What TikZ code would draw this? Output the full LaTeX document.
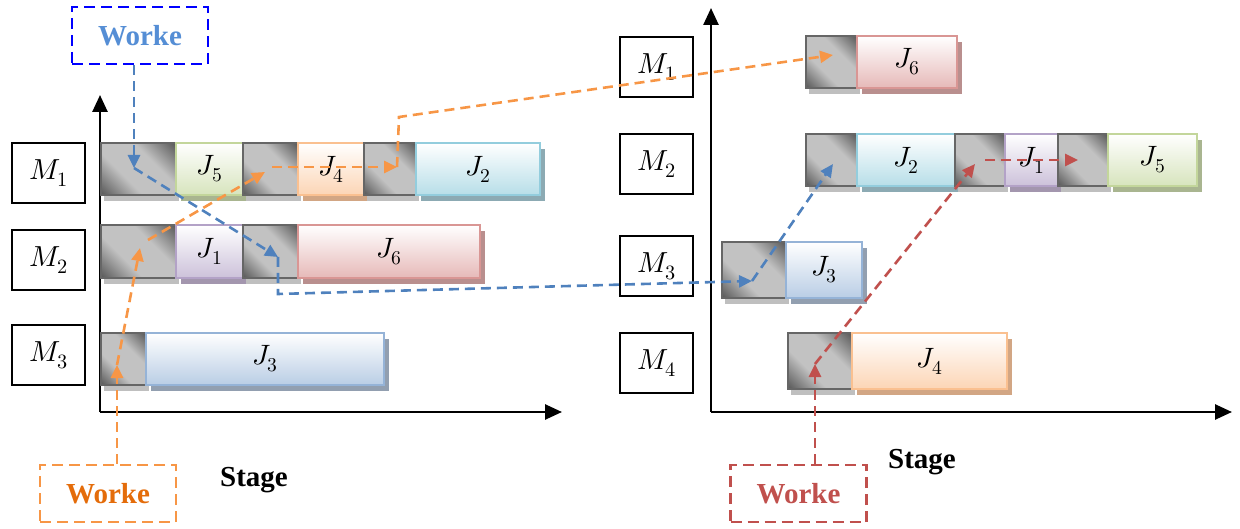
\documentclass[tikz,border=0pt]{standalone}
\usepackage{fontspec}
\usepackage{unicode-math}
\setmainfont{Liberation Serif}
\usetikzlibrary{arrows.meta,shadows}

\definecolor{gdark}{HTML}{555555}
\definecolor{glight}{HTML}{C2C2C2}
\definecolor{greenF}{HTML}{D7E4BD}\definecolor{greenB}{HTML}{C3D69B}\definecolor{greenS}{HTML}{A9B590}
\definecolor{orangeF}{HTML}{FCD5B5}\definecolor{orangeB}{HTML}{FAC090}\definecolor{orangeS}{HTML}{D2A684}
\definecolor{cyanF}{HTML}{B7DEE8}\definecolor{cyanB}{HTML}{93CDDD}\definecolor{cyanS}{HTML}{8CAAB3}
\definecolor{purpleF}{HTML}{CCC1DA}\definecolor{purpleB}{HTML}{B3A2C7}\definecolor{purpleS}{HTML}{A396AE}
\definecolor{redF}{HTML}{E6B9B8}\definecolor{redB}{HTML}{D99694}\definecolor{redS}{HTML}{B98F8E}
\definecolor{blueF}{HTML}{B9CDE5}\definecolor{blueB}{HTML}{95B3D7}\definecolor{blueS}{HTML}{929FB0}
\definecolor{lineblue}{HTML}{4F81BD}
\definecolor{lineorange}{HTML}{F79646}
\definecolor{linered}{HTML}{C0504D}
\definecolor{txtblue}{HTML}{558ED5}
\definecolor{txtorange}{HTML}{E46C0A}

\pgfdeclarehorizontalshading{grayglass}{100bp}{color(0bp)=(gdark); color(14bp)=(gdark); color(38bp)=(glight); color(62bp)=(glight); color(86bp)=(gdark); color(100bp)=(gdark)}

\tikzset{
  bx/.style={anchor=north west, inner sep=0pt, outer sep=0pt, minimum height=52pt,
    font=\fontsize{28}{34}\selectfont},
  gbox/.style={bx, draw=black!60, line width=1.6pt, shading=grayglass, shading angle=45,
    drop shadow={shadow xshift=3pt, shadow yshift=-6pt, fill=black!25, opacity=1}},
  jbox/.style={bx, draw=#1B, line width=1.8pt, top color=white, bottom color=#1F,
    drop shadow={shadow xshift=5pt, shadow yshift=-6pt, fill=#1S, opacity=1}},
  mbox/.style={draw, line width=1.5pt, inner sep=0pt, minimum width=73pt, minimum height=60pt,
    font=\fontsize{29}{34}\selectfont},
  wbox/.style={draw=#1, dash pattern=on 11pt off 6pt, line width=2.2pt, inner sep=0pt,
    minimum width=136pt, minimum height=57pt, font=\fontsize{29}{34}\selectfont\bfseries},
  stagelbl/.style={font=\fontsize{29}{34}\selectfont\bfseries, inner sep=0pt},
  axis/.style={line width=2.6pt, -{Triangle[length=17pt,width=15pt]}},
  conn/.style={draw=#1, line width=2.6pt, dash pattern=on 10pt off 6pt,
    -{Triangle[length=13pt,width=12pt,fill=#1]}},
}

\begin{document}
\begin{tikzpicture}[x=1pt,y=-1pt]
\useasboundingbox (0,0) rectangle (1240,529);

% ---------------- left panel ----------------
\coordinate (lO) at (100,412);
\coordinate (lY) at (100,95);
\coordinate (lX) at (562,412);
\draw[axis] (lO) -- (lY);
\draw[axis] (lO) -- (lX);

\node[mbox] (lm1) at (48.5,173) {$M_1$};
\node[mbox] (lm2) at (48.5,260) {$M_2$};
\node[mbox] (lm3) at (48.5,355) {$M_3$};

% row M1
\node[gbox, minimum width=75pt] (lg11) at (101,143) {};
\node[jbox=green, minimum width=67pt] (lj5) at (176,143) {$J_5$};
\node[gbox, minimum width=55pt] (lg12) at (243,143) {};
\node[jbox=orange, minimum width=66pt] (lj4) at (298,143) {$J_4$};
\node[gbox, minimum width=52pt] (lg13) at (364,143) {};
\node[jbox=cyan, minimum width=124pt] (lj2) at (416,143) {$J_2$};
% row M2
\node[gbox, minimum width=75pt, minimum height=53pt] (lg21) at (101,225) {};
\node[jbox=purple, minimum width=67pt, minimum height=53pt] (lj1) at (176,225) {$J_1$};
\node[gbox, minimum width=55pt, minimum height=53pt] (lg22) at (243,225) {};
\node[jbox=red, minimum width=182pt, minimum height=53pt] (lj6) at (298,225) {$J_6$};
% row M3
\node[gbox, minimum width=45pt] (lg31) at (101,333) {};
\node[jbox=blue, minimum width=238pt] (lj3) at (146,333) {$J_3$};

\node[wbox=blue, text=txtblue] (wb) at (140,35.5) {Worke};
\node[wbox=lineorange, text=txtorange] (wo) at (108,493.5) {Worke};
\node[stagelbl] (st1) at (254,480) {Stage};

% ---------------- right panel ----------------
\coordinate (rO) at (711,412);
\coordinate (rY) at (711,8);
\coordinate (rX) at (1232,412);
\draw[axis] (rO) -- (rY);
\draw[axis] (rO) -- (rX);

\node[mbox] (rm1) at (656.5,67) {$M_1$};
\node[mbox] (rm2) at (656.5,164) {$M_2$};
\node[mbox] (rm3) at (656.5,266) {$M_3$};
\node[mbox] (rm4) at (656.5,363) {$M_4$};

% row M1
\node[gbox, minimum width=51pt] (rg11) at (806,36) {};
\node[jbox=red, minimum width=100pt] (rj6) at (857,36) {$J_6$};
% row M2
\node[gbox, minimum width=51pt] (rg21) at (806,134) {};
\node[jbox=cyan, minimum width=98pt] (rj2) at (857,134) {$J_2$};
\node[gbox, minimum width=50pt] (rg22) at (955,134) {};
\node[jbox=purple, minimum width=53pt] (rj1) at (1005,134) {$J_1$};
\node[gbox, minimum width=50pt] (rg23) at (1058,134) {};
\node[jbox=green, minimum width=89pt] (rj5) at (1108,134) {$J_5$};
% row M3
\node[gbox, minimum width=64pt, minimum height=56pt] (rg31) at (722,242) {};
\node[jbox=blue, minimum width=76pt, minimum height=56pt] (rj3) at (786,242) {$J_3$};
% row M4
\node[gbox, minimum width=64pt, minimum height=56pt] (rg41) at (788,333) {};
\node[jbox=orange, minimum width=155pt, minimum height=56pt] (rj4) at (852,333) {$J_4$};

\node[wbox=linered, text=linered] (wr) at (798.5,493.5) {Worke};
\node[stagelbl] (st2) at (922,462) {Stage};

% ---------------- connectors ----------------
% blue worker
\coordinate (bA) at (134,168);
\coordinate (bB) at (278,257);
\coordinate (bC) at (278,294);
\coordinate (bD) at (752,281);
\coordinate (bE) at (833,164);
\draw[conn=lineblue] (wb.south -| bA) -- (bA);
\draw[conn=lineblue] (bA) -- (bB);
\draw[conn=lineblue] (bB) -- (bC) -- (bD);
\draw[conn=lineblue] (bD) -- (bE);

% orange worker
\coordinate (oA) at (117,365);
\coordinate (oB) at (140,248);
\coordinate (oC) at (148,240);
\coordinate (oD) at (265,172);
\coordinate (oE) at (272,167);
\coordinate (oF) at (397,167);
\coordinate (oG) at (399,117);
\coordinate (oH) at (833,55);
\draw[conn=lineorange] (wo.north -| oA) -- (oA);
\draw[conn=lineorange] (oA) -- (oB);
\draw[conn=lineorange] (oC) -- (oD);
\draw[conn=lineorange] (oE) -- (oF);
\draw[conn=lineorange] (oF) -- (oG) -- (oH);

% red worker
\coordinate (rA) at (815,364);
\coordinate (rB) at (975,164);
\coordinate (rC) at (985,160);
\coordinate (rD) at (1078,160);
\draw[conn=linered] (wr.north -| rA) -- (rA);
\draw[conn=linered] (rA) -- (rB);
\draw[conn=linered] (rC) -- (rD);
\end{tikzpicture}
\end{document}
